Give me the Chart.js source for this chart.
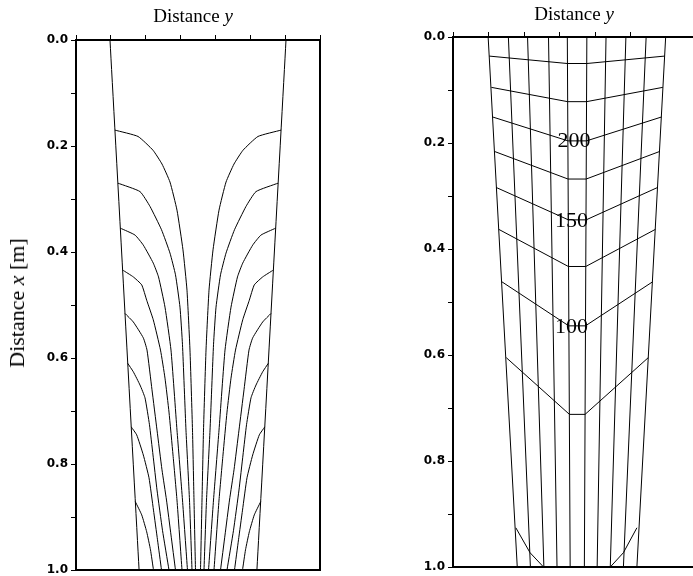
<!DOCTYPE html>
<html>
<head>
<meta charset="utf-8">
<script src="https://cdn.jsdelivr.net/npm/chart.js@4.4.0/dist/chart.umd.min.js"></script>
<style>
body{margin:0;background:#fff;width:693px;height:576px;overflow:hidden;position:relative;font-family:"Liberation Serif",serif;}
canvas{position:absolute;top:0;}
#left{left:0;}
#right{left:345px;}
.lbl{position:absolute;white-space:nowrap;color:#000;transform:translate(-50%,-50%);}
</style>
</head>
<body>
<canvas id="left" width="345" height="576"></canvas>
<canvas id="right" width="348" height="576"></canvas>
<div class="lbl" style="left:193px;top:16px;font-size:19px">Distance <i>y</i></div>
<div class="lbl" style="left:574px;top:14px;font-size:19px">Distance <i>y</i></div>
<div class="lbl" style="left:17px;top:303px;font-size:22px;transform:translate(-50%,-50%) rotate(-90deg)">Distance <i>x</i> [m]</div>
<script>
// left panel: side walls and flow lines (lateral position y in tick units, depth x in m)
const wallDepth = [0, 1];
const wallLeft = [0.975, 1.81];
const wallRight = [6.025, 5.19];

const depthA = [0.170, 0.182, 0.208, 0.234, 0.268, 0.321, 0.396, 0.472, 0.585, 0.736, 0.868, 1.0];
const leftA  = [1.116, 1.779, 2.209, 2.467, 2.696, 2.897, 3.069, 3.184, 3.270, 3.342, 3.385, 3.428];
const rightA = [5.884, 5.221, 4.791, 4.533, 4.304, 4.103, 3.931, 3.816, 3.730, 3.658, 3.615, 3.572];

const depthB = [0.270, 0.286, 0.314, 0.358, 0.402, 0.443, 0.504, 0.575, 0.736, 0.868, 1.0];
const leftB  = [1.199, 1.836, 2.123, 2.453, 2.696, 2.854, 2.983, 3.055, 3.155, 3.256, 3.328];
const rightB = [5.801, 5.164, 4.877, 4.547, 4.304, 4.146, 4.017, 3.945, 3.845, 3.744, 3.672];

const depthC = [0.355, 0.368, 0.387, 0.421, 0.447, 0.504, 0.585, 0.736, 0.868, 1.0];
const leftC  = [1.271, 1.692, 1.931, 2.217, 2.367, 2.553, 2.725, 2.897, 3.055, 3.198];
const rightC = [5.729, 5.308, 5.069, 4.783, 4.633, 4.447, 4.275, 4.103, 3.945, 3.802];

const depthD = [0.434, 0.447, 0.462, 0.491, 0.528, 0.585, 0.638, 0.702, 0.783, 0.868, 1.0];
const leftD  = [1.337, 1.644, 1.885, 2.028, 2.217, 2.424, 2.553, 2.668, 2.783, 2.897, 3.041];
const rightD = [5.663, 5.356, 5.115, 4.972, 4.783, 4.576, 4.447, 4.332, 4.217, 4.103, 3.959];

const depthE = [0.516, 0.532, 0.562, 0.585, 0.660, 0.736, 0.811, 0.868, 0.934, 1.0];
const leftE  = [1.406, 1.644, 1.931, 2.037, 2.180, 2.324, 2.467, 2.596, 2.725, 2.854];
const rightE = [5.594, 5.356, 5.069, 4.963, 4.820, 4.676, 4.533, 4.404, 4.275, 4.146];

const depthF = [0.610, 0.626, 0.651, 0.675, 0.726, 0.783, 0.849, 0.925, 1.0];
const leftF  = [1.483, 1.644, 1.836, 1.979, 2.108, 2.209, 2.324, 2.481, 2.668];
const rightF = [5.517, 5.356, 5.164, 5.021, 4.892, 4.791, 4.676, 4.519, 4.332];

const depthG = [0.730, 0.745, 0.783, 0.826, 0.887, 0.943, 1.0];
const leftG  = [1.584, 1.741, 1.931, 2.094, 2.223, 2.338, 2.453];
const rightG = [5.416, 5.259, 5.069, 4.906, 4.777, 4.662, 4.547];

const depthH = [0.871, 0.896, 0.928, 0.962, 1.0];
const leftH  = [1.701, 1.885, 2.028, 2.137, 2.223];
const rightH = [5.299, 5.115, 4.972, 4.863, 4.777];

// right panel: mesh columns and iso lines
const meshTop    = [0.99, 1.56, 2.10, 2.69, 3.22, 3.77, 4.31, 4.87, 5.44, 5.99];
const meshBottom = [1.81, 2.18, 2.56, 2.93, 3.30, 3.70, 4.06, 4.43, 4.80, 5.18];

const isoWallDepth = [0.036, 0.095, 0.151, 0.216, 0.284, 0.363, 0.462, 0.605];
const isoMidDepth  = [0.050, 0.122, 0.196, 0.268, 0.345, 0.433, 0.545, 0.712];
const isoLeftX     = [1.02, 1.08, 1.12, 1.17, 1.22, 1.29, 1.38, 1.50];
const isoMidLeftX  = [3.22, 3.23, 3.24, 3.24, 3.25, 3.25, 3.26, 3.28];
const isoMidRightX = [3.77, 3.76, 3.76, 3.75, 3.75, 3.74, 3.73, 3.72];
const isoRightX    = [5.96, 5.91, 5.87, 5.82, 5.76, 5.70, 5.62, 5.50];

const isoLowDepth  = [0.926, 0.973, 1.0];
const isoLowLeftX  = [1.77, 2.17, 2.55];
const isoLowRightX = [5.18, 4.80, 4.43];

const isoLabels     = ['200', '150', '100'];
const isoLabelX     = [3.41, 3.34, 3.34];
const isoLabelDepth = [0.194, 0.345, 0.545];

const depthTicks = [0, 0.2, 0.4, 0.6, 0.8, 1.0];

function trace(xs, ys){
    return {
        data: xs.map((x, i) => ({x: x, y: ys[i]})),
        showLine: true,
        pointRadius: 0,
        borderColor: '#000',
        borderWidth: 1,
        tension: 0.15,
        fill: false
    };
}

function frameScales(xMax, topH, leftW, withRight){
    const black = '#000';
    const edge = {display: true, color: black, width: 2};
    const ticksGrid = {drawOnChartArea: false, drawTicks: true, tickLength: 5, color: black, lineWidth: 1};
    const plainGrid = {drawOnChartArea: false, drawTicks: false, color: black};
    const s = {
        x: {
            type: 'linear', position: 'top', min: 0, max: xMax,
            ticks: {display: false, stepSize: 1},
            afterBuildTicks: sc => { sc.ticks = sc.ticks.filter(t => Math.abs(t.value - Math.round(t.value)) < 1e-6); },
            grid: ticksGrid, border: edge,
            afterFit: sc => { sc.height = topH; sc.paddingLeft = 0; sc.paddingRight = 0; }
        },
        y: {
            type: 'linear', position: 'left', reverse: true, min: 0, max: 1,
            ticks: {
                stepSize: 0.1, color: black, padding: 3, autoSkip: false,
                font: {family: 'DejaVu Sans', size: 12, weight: 'bold'},
                callback: v => depthTicks.some(t => Math.abs(t - v) < 1e-6) ? v.toFixed(1) : ''
            },
            grid: ticksGrid, border: edge,
            afterFit: sc => { sc.width = leftW; sc.paddingTop = 0; sc.paddingBottom = 0; }
        },
        xb: {
            type: 'linear', position: 'bottom', min: 0, max: xMax,
            ticks: {display: false}, grid: plainGrid, border: edge,
            afterFit: sc => { sc.height = 0; sc.paddingLeft = 0; sc.paddingRight = 0; }
        }
    };
    if (withRight) {
        s.yr = {
            type: 'linear', position: 'right', reverse: true, min: 0, max: 1,
            ticks: {display: false}, grid: plainGrid, border: edge,
            afterFit: sc => { sc.width = 0; sc.paddingTop = 0; sc.paddingBottom = 0; }
        };
    }
    return s;
}

const baseOptions = {
    responsive: false,
    animation: false,
    devicePixelRatio: 1,
    plugins: {legend: {display: false}, tooltip: {enabled: false}}
};

// left panel
const leftSets = [
    trace(wallLeft, wallDepth), trace(wallRight, wallDepth),
    trace(leftA, depthA), trace(rightA, depthA),
    trace(leftB, depthB), trace(rightB, depthB),
    trace(leftC, depthC), trace(rightC, depthC),
    trace(leftD, depthD), trace(rightD, depthD),
    trace(leftE, depthE), trace(rightE, depthE),
    trace(leftF, depthF), trace(rightF, depthF),
    trace(leftG, depthG), trace(rightG, depthG),
    trace(leftH, depthH), trace(rightH, depthH)
];

new Chart(document.getElementById('left'), {
    type: 'scatter',
    data: {datasets: leftSets},
    options: Object.assign({}, baseOptions, {
        layout: {padding: {top: 0, left: 0, right: 25, bottom: 6}},
        scales: frameScales(7, 40, 76, true)
    })
});

// right panel
const rightSets = [];
meshTop.forEach((x, i) => {
    const s = trace([x, meshBottom[i]], [0, 1]);
    s.tension = 0;
    rightSets.push(s);
});
isoWallDepth.forEach((d, i) => {
    const s = trace([isoLeftX[i], isoMidLeftX[i], isoMidRightX[i], isoRightX[i]],
                    [d, isoMidDepth[i], isoMidDepth[i], d]);
    s.tension = 0;
    rightSets.push(s);
});
rightSets.push(Object.assign(trace(isoLowLeftX, isoLowDepth), {tension: 0}));
rightSets.push(Object.assign(trace(isoLowRightX, isoLowDepth), {tension: 0}));

const isoLabelPlugin = {
    id: 'isoLabels',
    afterDatasetsDraw(chart){
        const ctx = chart.ctx;
        const sx = chart.scales.x, sy = chart.scales.y;
        ctx.save();
        ctx.fillStyle = '#000';
        ctx.font = '22px "Liberation Serif"';
        ctx.textAlign = 'center';
        ctx.textBaseline = 'alphabetic';
        isoLabels.forEach((t, i) => {
            ctx.fillText(t, sx.getPixelForValue(isoLabelX[i]), sy.getPixelForValue(isoLabelDepth[i]) + 7.5);
        });
        ctx.restore();
    }
};

new Chart(document.getElementById('right'), {
    type: 'scatter',
    data: {datasets: rightSets},
    options: Object.assign({}, baseOptions, {
        layout: {padding: {top: 0, left: 0, right: 0, bottom: 9}},
        scales: frameScales(6.76, 37, 108, false)
    }),
    plugins: [isoLabelPlugin]
});
</script>
</body>
</html>
